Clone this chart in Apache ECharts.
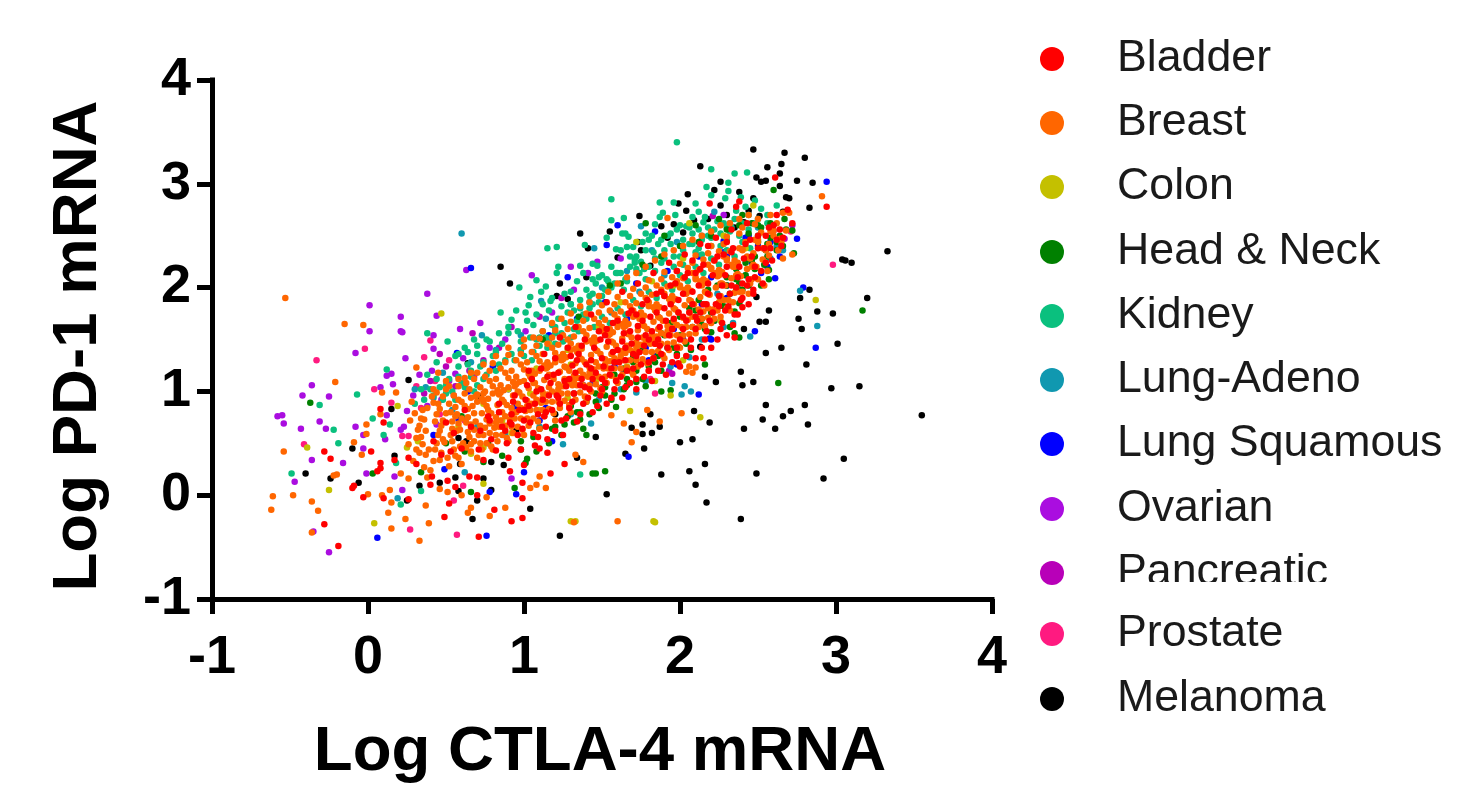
<!DOCTYPE html>
<html><head><meta charset="utf-8">
<style>html,body{margin:0;padding:0;background:#fff}#c{width:1457px;height:785px}</style>
<script src="https://cdn.jsdelivr.net/npm/echarts@6/dist/echarts.min.js"></script>
</head><body><div id="c"></div>
<script>
const categories=["Bladder","Breast","Colon","Head & Neck","Kidney","Lung-Adeno","Lung Squamous","Ovarian","Pancreatic","Prostate","Melanoma"];
const colors=["#FF0000","#FF6600","#C4C000","#008000","#0AC07E","#1098B0","#0000FF","#AA0DE0","#B800B8","#FF1A80","#000000"];
const xTickLabels=["-1","0","1","2","3","4"];
const yTickLabels=["-1","0","1","2","3","4"];
const melanoma=[3.33,2.35,3.04,2.27,3.06,2.26,3.1,2.24,2.83,1.98,2.77,1.9,3.2,1.9,2.88,1.77,2.98,1.75,2.76,1.7,2.78,1.6,2.57,1.78,2.49,1.91,2.51,1.67,2.55,1.67,2.41,1.6,2.65,1.42,2.55,1.37,3.01,1.46,2.81,1.26,2.39,1.19,2.47,1.09,2.4,1.06,2.23,1.09,2.16,1.14,2.13,1.43,2.97,1.03,3.15,1.05,3.55,.77,2.55,.87,2.8,.87,2.71,.81,2.66,.76,2.53,.73,2.61,.64,2.82,.68,2.41,.64,2.19,.7,2.09,.81,1.81,.78,1.76,.68,1.87,.66,1.69,.65,1.76,.59,1.82,.6,2,.51,2.08,.54,1.77,.45,1.65,.4,2.16,.3,1.88,.2,2.06,.23,2.1,.1,2.17,-.07,1.53,.01,2.49,.21,3.05,.35,2.92,.16,2.39,-.23,.26,1.11,.15,.83,-.1,.45,-.4,.21,-.24,.16,-.06,.12,.33,.09,.46,.12,.56,.17,.74,.16,.58,.04,.79,.05,.7,-.05,.67,-.23,1.04,-.13,1.23,-.39,.25,-.05,1.34,.36,1.46,.56,.63,.52,.58,.55,.17,.38,.79,.32,.87,.29,.59,.3,2.47,3.33,2.67,3.3,2.8,3.25,2.56,3.16,2.65,3.19,2.13,3.17,2.64,3.1,2.49,3.06,2.52,3.02,2.55,3.03,2.75,3.03,2.85,3.01,2.26,3.02,2.64,2.98,2.22,2.94,2.38,2.92,2.05,2.9,2.68,2.87,2.7,2.86,2.47,2.86,2.83,2.77,1.99,2.81,2.26,2.79,2.44,2.74,2.04,2.74,1.74,2.69,2.66,2.73,2.51,2.69,1.36,2.52,1.55,2.54,1.41,2.38,1.73,2.44,1.88,2.59,1.96,2.61,2.02,2.53,1.6,2.29,.85,2.2,.91,2.04,1.23,2.04,1.21,1.92,1.28,1.89,1.4,2.1,1.81,2.21,2.3,2.7,2.41,2.63,2.35,2.58,2.18,2.66,2.09,2.65,1.92,2.48,1.75,2.36,.64,1.27,.72,.95,.95,.62,1.2,.78];
const prostate=[2.98,2.22,2.71,2.54,-.33,1.3,-.02,1.41,-.41,.49,.04,1.02,.4,1.49,.36,1.33,.27,-.33,.57,-.38,.55,-.05,.61,.09,.15,.89,.22,.57,.26,.57,1.84,.98,1.81,1.12,.34,.84,.46,.78,.55,.96,.31,1.05,.43,1.1,.52,1.3,.62,.72];
const pancreatic=[.46,1.36,.67,1.56,.4,1.1,.65,1.2,.68,1.14,2.72,2.6,2.67,2.47,1.93,1.2,1.95,1.17,2.21,2.69,.56,1.05,.5,1.24,.74,1.3,.36,.98,.84,1.42,.92,1.62,1.1,1.72,1.24,1.9,2.6,2.55,2.32,2.56];
const ovarian=[.01,1.58,.22,1.57,-.08,1.37,.24,1.32,.42,1.41,-.36,1.06,-.42,.96,-.25,.95,-.58,.76,-.55,.77,-.54,.69,-.31,.71,-.43,.64,-.27,.64,-.08,.66,-.03,.58,-.03,.45,-.36,.34,-.16,.31,-.01,.21,-.47,.13,-.25,-.55,-.35,-.35,.12,1.15,.15,1.17,.08,1.04,.16,1.07,.25,.81,.12,.77,.21,.63,.23,.66,.11,.54,.17,.18,.22,.05,.41,1.2,.56,1.17,.92,.16,.01,1.83,.21,1.72,.38,1.94,.21,1.58,.42,1.54,.63,2.17,.44,1.73,.59,1.6,.72,1.66,.33,1.16,.47,.92,.52,1.1,.61,1.32,.78,1.42,.88,1.5,1.01,1.58,1.18,1.76,1.32,1.98,1.41,2.14,1.47,2.25,.29,.96,.38,.86,.44,.68,1.05,2.12,1.3,2.2,1.62,2.28,2.28,2.7];
const lungSq=[2.94,3.02,2.75,2.47,2.61,2.09,2.79,2,2.87,1.42,2.19,1.51,2.12,.97,1.28,2.1,1.53,2.41,1.84,2.54,1.67,.37,.06,-.41,.76,-.39,.49,.25,.95,.01,.78,.03,1,.22,1.18,.52,.57,1.37,.58,.73,.64,1,.42,.58,.66,2.19,.95,.85,1.1,.72,1.32,.98,1.44,1.08,1.64,1.2,1.84,1.34,2.02,1.5,2.22,1.68,2.38,1.98,2.52,2.14,2.64,2.3,2.58,2.44,2.42,2.48,2.28,2.34,2.12,2.3,1.92,2.16,1.72,2.04,1.52,1.86,1.34,1.7,1.16,1.54,.98,1.4,.8,1.24,.9,1.02,1.14,.84,1.38,1.06,1.58,1.24,1.78,1.42,1.96,1.6,2.14,1.84,2.3,2.02,2.46,2.24,2.56,2.2,2.28,2.45,2.48,1.58,1.98,1.26,1.66,1.7,2.3,1.9,2.2,2.1,2.3,2.3,2.44,2.5,2.5,2.4,2.2,1.5,1.8,1.3,1.6,2.6,2.46];
const lungAdeno=[1.45,2.38,1.75,2.59,2.77,1.97,2.88,1.63,2.45,1.53,2.28,1.62,2.06,1.33,1.95,1.08,2.03,1.05,2.07,1,2.01,.97,1.72,.99,1.11,1.87,2.22,2.73,.6,2.52,.19,-.03,1.25,.49,1.43,.69,.73,1.54,.37,1.04,.62,.22,.48,1.18,.66,1.28,.82,1.4,.98,1.54,1.14,1.7,1.3,1.84,1.5,2,1.66,2.16,1.82,2.36,1.98,2.44,2.14,2.5,2.32,2.62,2.5,2.58,2.62,2.4,2.66,2.36,2.58,2.28,2.42,2.12,2.24,1.94,2.34,1.66,2.14,1.5,1.94,1.24,1.78,1.1,1.62,1.02,1.48,.92,1.3,.78,1.1,.66,.88,.58,.7,.66,.54,.82,.42,.94,.3,1.02,1.56,1.76,1.74,1.96,1.9,2.12,1.42,1.86,1.16,1.48];
const kidney=[1.98,3.4,2.2,3.14,2.35,3.1,2.43,3.11,2.31,3.01,2.17,2.97,2.31,2.93,2.2,2.89,2.29,2.86,2.39,2.87,1.87,2.82,1.96,2.82,2.1,2.81,1.56,2.85,2.48,2.84,2.62,2.79,2.12,2.73,1.89,2.72,1.87,2.68,1.97,2.7,2.08,2.68,2.16,2.68,1.56,2.65,1.64,2.67,2.15,2.63,2.04,2.59,1.84,2.61,1.63,2.52,1.65,2.52,1.67,2.49,1.53,2.48,1.78,2.52,1.39,2.41,1.15,2.38,1.21,2.39,1.59,2.37,1.66,2.39,1.7,2.39,1.71,2.27,1.44,2.23,1.47,2.21,1.22,2.2,1.21,2.14,1.36,2.21,1.08,2.07,.97,2,1.14,2.01,1.11,1.96,1.04,1.91,1.17,1.87,1.03,1.83,.95,1.78,1.01,1.76,.85,1.76,.92,1.69,.12,1.21,.38,1.56,.51,1.48,-.07,.97,-.31,.87,-.22,.63,-.19,.5,-.49,.21,.21,-.09,.34,.04,1.36,.2,.1,.58,.14,.68,.03,.74,.18,.31,1.8,2.46,1.86,2.42,1.92,2.5,1.98,2.56,2.02,2.46,2.08,2.52,2.14,2.46,2.22,2.56,2.28,2.62,2.35,2.66,2.44,2.7,2.52,2.76,2.56,2.62,1.72,2.3,1.78,2.36,1.84,2.28,1.9,2.36,1.96,2.3,2.02,2.36,2.1,2.34,2.2,2.4,2.3,2.46,1.5,2.12,1.56,2.2,1.62,2.14,1.68,2.2,1.74,2.14,1.8,2.2,1.34,2.06,1.4,1.98,1.46,2.04,1.52,1.98,1.58,2.04,1.64,1.98,1.26,1.94,1.3,1.84,1.36,1.88,1.42,1.8,1.48,1.86,1.16,1.78,1.22,1.7,1.28,1.76,1.34,1.68,1.06,1.64,1.12,1.58,1.18,1.64,1.24,1.56,.96,1.58,.98,1.48,1.04,1.52,1.1,1.44,.86,1.46,.9,1.56,.92,1.36,.98,1.4,.78,1.48,.8,1.34,.84,1.26,.88,1.3,.7,1.36,.72,1.24,.76,1.16,.64,1.26,.66,1.14,.7,1.06,.58,1.24,.6,1.08,.52,1.12,.54,1,.46,1.04,.48,.92,.42,.96,.36,.92,.38,1.16,.3,.88,.44,1.28,.62,1.42,.68,1.5,.56,1.34,1.75,2.25,1.83,2.34,1.88,2.24,1.94,2.42,2,2.3,2.06,2.42,2.12,2.38,2.18,2.5,2.26,2.52,2.33,2.58,2.4,2.62,2.47,2.62,1.53,2.08,1.59,2.14,1.65,2.08,1.71,2.24,1.77,2.18,1.44,1.94,1.5,1.92,1.56,2,1.32,1.78,1.38,1.74,1.44,1.84,1.2,1.62,1.26,1.66,1.32,1.6,1.08,1.5,1.14,1.52,1.2,1.46,1,1.34,1.06,1.38,.94,1.3,.82,1.2,.74,1.12,.68,1,.62,1.04,.56,.92,.5,.98];
const kidneyExtra=[1.05,1.3,1.1,1.52,1.15,1.42,1.2,1.56,1.25,1.48,1.3,1.52,1.35,1.58,1.4,1.7,1.45,1.62,1.5,1.72,1.55,1.66,1.6,1.8,1.65,1.74,1.7,1.88,1.75,1.82,1.8,1.96,1.85,1.9,1.9,2.04,1.95,1.98,2,2.12,2.05,2.06,2.1,2.2,2.15,2.14,2.2,2.28,2.25,2.22,2.3,2.36,2.35,2.3,2.4,2.44,2.45,2.38,2.5,2.5,1.02,1.68,1.08,1.74,1.12,1.84,1.18,1.9,1.24,1.82,1.3,1.96,1.36,1.8,1.42,1.92,1.48,2.1,1.54,2.06,1.6,2.14,1.66,2.06,1.72,2.18,1.78,2.08,1.84,2.16,1.9,2.28,1.96,2.2,2.02,2.22,2.08,2.42,2.14,2.32,2.2,2.48,2.26,2.4,2.32,2.54,2.38,2.5,2.44,2.56,2.5,2.66,2.56,2.7,1.38,2.14,1.44,2.08,1.62,2.36,1.68,2.3,1.76,2.44,1.82,2.5,1.88,2.46,1.94,2.52,2,2.6,2.06,2.58,2.12,2.56,2.18,2.58,2.24,2.64,2.3,2.58,2.36,2.74,2.42,2.78,.9,1.62,.84,1.56,.76,1.5,.7,1.44,.64,1.38,.58,1.36,.82,1.38,.74,1.28,.66,1.2,.58,1.14,.5,1.06,.44,1.12,.4,1.02,.34,1.02];
const headNeck=[2.6,2.94,2.67,2.66,2.72,2.55,2.73,2.33,2.57,2.17,2.57,2.08,2.52,2.02,2.38,1.85,2.35,1.77,2.32,1.62,2.2,1.57,2.38,1.52,2.35,1.56,2.16,1.26,2.07,1.4,2.63,1.08,3.17,1.78,1.94,1.01,1.88,1,1.78,1.05,1.72,1.09,1.59,.85,1.52,.23,1.44,.21,1.46,.21,1.36,.73,1.38,.64,1.4,.58,1.02,.35,1.01,.31,.94,.07,.66,.03,.34,.22,.03,.21,-.37,.89,.77,.5,.6,.76,2.52,2.58,2.46,2.62,2.58,2.48,2.62,2.36,2.56,2.3,2.46,2.26,2.42,2.12,2.36,2.08,2.32,1.94,2.26,1.9,2.2,1.76,2.14,1.7,2.08,1.62,2,1.54,1.92,1.42,1.86,1.34,1.8,1.24,1.72,1.2,1.64,1.02,1.58,.98,1.48,.84,1.42,.78,1.32,.7,1.24,.58,1.16,.5,1.08,.42,.98,.52,.86,.38,.74,.32,.62,.42,.5,.5,2.5,2.44,2.3,2.02,2.1,1.78,1.9,1.54,1.7,1.34,1.5,1.04,1.3,.86,1.1,.64,1.78,2.62,1.9,2.5,2.1,2.6,2.25,2.66,2.4,2.7,1.55,2.02,1.35,1.72,1.12,1.5,2.48,2.18,2.44,2.02,2.4,1.98,2.28,1.82,2.22,1.68,2.16,1.6,2.04,1.46,1.98,1.36,1.88,1.2,1.76,1.12,1.66,1.12,1.56,.92,1.46,.9,1.36,.8,1.28,.76,1.2,.66,2.56,2.42,2.64,2.5,2.54,2.22,2.38,2.04];
const headNeckExtra=[2.55,2.36,2.48,2.3,2.42,2.24,2.36,2.18,2.3,2.1,2.24,2.02,2.18,1.98,2.12,1.88,2.06,1.8,2,1.72,1.94,1.66,1.88,1.56,1.82,1.5,1.76,1.42,1.7,1.28,1.64,1.22,1.58,1.16,1.52,1.04,1.46,.98,1.4,.9,1.34,.8,1.26,.68,1.18,.64,1.06,.56,.98,.44,2.62,2.44,2.68,2.56,2.66,2.4,2.58,2.62,2.5,2.6,2.44,2.52,2.38,2.6,2.3,2.56,2.2,2.5,2.12,2.44,2,2.4,1.88,2.3,1.76,2.22,1.62,2.04,2.44,2.28,2.36,1.98,2.26,1.84,2.14,1.64,1.96,1.42,1.84,1.28,1.66,1.06,1.52,.96];
const colon=[2.47,2.79,2.87,1.88,1.94,.96,2.13,.75,1.68,.81,-.39,.46,-.25,.05,.04,-.27,.19,.86,1.3,-.25,.32,.52,.25,.46,.47,1.75,.74,.11,1.33,-.25,1.84,-.26,1.83,-.25,2.06,2.62,2.28,2.5,2.02,2.28,1.82,2.06,1.62,1.86,1.48,1.62,1.28,1.4,1.08,1.22,.9,1.02,.74,.88,.58,.66,.74,.46,.92,.6,1.1,.82,1.28,.94,1.46,1.1,1.66,1.24,1.86,1.46,1.84,1.1,2.02,1.3,2.26,1.68,1.96,2.02,1.6,1.66,1.3,1.26,1.04,.98,.86,.72,1.16,1.46,.66,.4,1.72,2.44,2.42,2.38];
const breast=[-.53,1.9,-.15,1.65,-.03,1.64,-.21,1.09,-.54,.42,-.61,-.01,-.48,0,-.62,-.14,-.36,-.06,-.32,-.15,-.36,-.36,-.2,.2,-.22,.19,-.09,.51,-.04,.39,-.01,.68,-.01,.59,.09,.99,.18,.99,.08,.78,.31,1.23,.45,1.18,0,.01,.09,0,.14,.05,.15,-.07,.13,-.17,.15,-.32,.24,-.23,.33,-.44,.39,-.27,.37,-.1,.21,.21,.26,.16,.64,-.17,.66,-.12,.78,-.2,.88,-.12,1.32,-.26,1.04,.07,1.08,.1,1.14,.07,1.1,.18,1.38,.32,1.33,.39,.46,.06,.51,.03,.38,.17,.6,0,.76,-.02,1.6,-.25,2.91,2.88,2.72,2.32,1.92,2.67,2.01,.79,1.87,.71,1.69,.51,1.72,.61,1.79,.82,1.64,.69,1.56,.77,2.04,1.19,2.06,1.24,2.1,1.23,2.08,1.18,.27,.72,.31,.55,.33,.41,.29,.33,.35,.82,.26,.49,.32,.63,.36,.27,.28,.9,.34,.74,.41,.95,.38,.84,.43,.71,.37,.62,.44,.5,.39,.44,.42,.33,.46,.62,.36,.73,.45,.88,.4,.24,.47,.41,.48,.95,.52,.88,.5,.79,.54,.71,.47,.67,.53,.58,.49,.51,.55,.44,.51,.36,.56,.85,.46,.83,.52,.28,.57,.62,.5,1.02,.58,1.05,.62,.98,.6,.9,.64,.83,.57,.78,.63,.7,.59,.63,.65,.56,.61,.5,.66,.42,.58,.36,.63,1.08,.66,.94,.6,.74,.68,1.12,.72,1.04,.7,.97,.74,.9,.67,.86,.73,.79,.69,.71,.75,.65,.71,.58,.76,.5,.68,.52,.73,.44,.77,.82,.7,1.18,.75,1,.78,1.2,.82,1.12,.8,1.05,.84,.97,.77,.93,.83,.87,.79,.79,.85,.72,.81,.65,.86,.58,.78,.6,.83,.52,.87,.9,.8,1.27,.85,1.06,.82,.75,.88,1.28,.92,1.2,.9,1.13,.94,1.05,.87,1.01,.93,.96,.89,.87,.95,.8,.91,.73,.96,.66,.88,.67,.93,.6,.97,.99,.9,1.35,.95,1.14,.92,.84,.98,1.36,1.02,1.28,1,1.21,1.04,1.14,.97,1.09,1.03,1.03,.99,.95,1.05,.88,1.01,.81,1.06,.74,.98,.74,1.03,.67,1.07,1.08,1,1.43,1.05,1.2,1.02,.91,1.08,1.44,1.12,1.36,1.1,1.29,1.14,1.22,1.07,1.17,1.13,1.11,1.09,1.03,1.15,.97,1.11,.89,1.16,.83,1.08,.82,1.13,.76,1.17,1.15,1.1,1.51,1.15,1.28,1.12,.99,1.18,1.52,1.22,1.45,1.2,1.37,1.24,1.3,1.17,1.25,1.23,1.19,1.19,1.12,1.25,1.05,1.21,.98,1.26,.91,1.18,.9,1.23,.84,1.27,1.23,1.2,1.59,1.25,1.36,1.22,1.07,1.28,1.6,1.32,1.53,1.3,1.46,1.34,1.38,1.27,1.33,1.33,1.27,1.29,1.2,1.35,1.13,1.31,1.06,1.36,.99,1.28,.98,1.33,.92,1.37,1.31,1.3,1.67,1.35,1.44,1.32,1.15,1.38,1.68,1.42,1.61,1.4,1.54,1.44,1.46,1.37,1.41,1.43,1.35,1.39,1.28,1.45,1.21,1.41,1.14,1.46,1.07,1.38,1.06,1.43,1,1.47,1.39,1.4,1.75,1.45,1.52,1.42,1.23,1.48,1.76,1.52,1.69,1.5,1.62,1.54,1.54,1.47,1.49,1.53,1.43,1.49,1.36,1.55,1.29,1.51,1.22,1.56,1.15,1.48,1.14,1.53,1.08,1.57,1.47,1.5,1.83,1.55,1.6,1.52,1.31,1.58,1.84,1.62,1.77,1.6,1.7,1.64,1.62,1.57,1.57,1.63,1.51,1.59,1.44,1.65,1.37,1.61,1.3,1.66,1.23,1.58,1.22,1.63,1.16,1.67,1.55,1.6,1.91,1.65,1.68,1.62,1.39,1.68,1.92,1.72,1.85,1.7,1.78,1.74,1.7,1.67,1.65,1.73,1.59,1.69,1.52,1.75,1.45,1.71,1.38,1.76,1.31,1.68,1.3,1.73,1.24,1.77,1.63,1.7,1.99,1.75,1.76,1.72,1.47,1.78,2,1.82,1.93,1.8,1.86,1.84,1.78,1.77,1.73,1.83,1.67,1.79,1.6,1.85,1.53,1.81,1.46,1.86,1.39,1.78,1.38,1.83,1.32,1.87,1.71,1.8,2.07,1.85,1.84,1.82,1.55,1.88,2.08,1.92,2.01,1.9,1.94,1.94,1.86,1.87,1.81,1.93,1.75,1.89,1.68,1.95,1.61,1.91,1.54,1.96,1.47,1.88,1.46,1.93,1.4,1.97,1.79,1.9,2.15,1.95,1.92,1.92,1.63,1.98,2.16,2.02,2.09,2,2.02,2.04,1.94,1.97,1.89,2.03,1.83,1.99,1.76,2.05,1.69,2.01,1.62,2.06,1.55,1.98,1.54,2.03,1.48,2.07,1.87,2,2.23,2.05,2,2.02,1.71,2.08,2.24,2.12,2.17,2.1,2.1,2.14,2.02,2.07,1.97,2.13,1.91,2.09,1.84,2.15,1.77,2.11,1.7,2.16,1.63,2.08,1.62,2.17,1.95,2.1,2.31,2.15,2.08,2.12,1.79,2.18,2.33,2.22,2.26,2.2,2.19,2.24,2.11,2.17,2.06,2.23,2,2.19,1.93,2.25,1.86,2.21,1.79,2.26,1.72,2.18,1.71,2.27,2.04,2.2,2.4,2.25,2.17,2.28,2.42,2.32,2.35,2.3,2.28,2.34,2.2,2.27,2.15,2.33,2.09,2.29,2.02,2.35,1.95,2.31,1.88,2.37,2.13,2.3,2.49,2.35,2.26,2.38,2.52,2.42,2.44,2.4,2.37,2.44,2.29,2.37,2.24,2.43,2.18,2.39,2.11,2.45,2.04,2.47,2.22,2.4,2.58,2.48,2.61,2.52,2.53,2.5,2.46,2.54,2.38,2.47,2.33,2.53,2.27,2.49,2.2,2.57,2.31,2.58,2.7,2.62,2.62,2.6,2.55,2.64,2.47,2.57,2.42,2.63,2.36,2.68,2.55,2.7,2.72,2.66,2.72];
const breastExtra=[.34,.56,.33,.67,.37,.39,.3,.79,.35,.49,.31,.44,.44,.78,.45,.58,.43,.44,.48,.72,.42,.89,.46,.34,.44,.99,.48,.54,.55,.96,.56,.76,.54,.52,.58,.69,.53,.8,.56,.38,.58,.92,.54,.64,.59,.47,.52,1.05,.64,.75,.66,.68,.64,.61,.68,.79,.62,.86,.66,.49,.69,.95,.65,1.02,.63,.46,.68,.63,.62,1.13,.74,.98,.76,.73,.74,.58,.78,.69,.73,.93,.76,.86,.72,.5,.78,1.1,.75,1.14,.79,.47,.72,.67,.85,.99,.86,.8,.84,.66,.88,.76,.83,1.01,.86,.92,.82,.58,.88,1.18,.85,1.22,.89,.55,.82,.7,.95,1.07,.96,.88,.94,.74,.98,.84,.93,1.09,.96,1,.92,.66,.98,1.26,.95,1.3,.99,.63,.92,.78,1.05,1.15,1.06,.96,1.04,.82,1.08,.92,1.03,1.17,1.06,1.08,1.02,.74,1.08,1.34,1.05,1.38,1.09,.71,1.02,.86,1.15,1.23,1.16,1.04,1.14,.9,1.18,1,1.13,1.25,1.16,1.16,1.12,.82,1.18,1.42,1.15,1.46,1.19,.79,1.12,.94,1.25,1.31,1.26,1.12,1.24,.98,1.28,1.08,1.23,1.33,1.26,1.24,1.22,.9,1.28,1.5,1.25,1.54,1.29,.87,1.22,1.02,1.35,1.39,1.36,1.2,1.34,1.06,1.38,1.16,1.33,1.41,1.36,1.32,1.32,.98,1.38,1.58,1.35,1.62,1.39,.95,1.32,1.1,1.45,1.47,1.46,1.28,1.44,1.14,1.48,1.24,1.43,1.49,1.46,1.4,1.42,1.06,1.48,1.66,1.45,1.7,1.49,1.03,1.42,1.18,1.55,1.55,1.56,1.36,1.54,1.22,1.58,1.32,1.53,1.57,1.56,1.48,1.52,1.14,1.58,1.74,1.55,1.78,1.59,1.11,1.52,1.26,1.65,1.63,1.66,1.44,1.64,1.3,1.68,1.4,1.63,1.65,1.66,1.56,1.62,1.22,1.68,1.82,1.65,1.86,1.69,1.19,1.62,1.34,1.75,1.71,1.76,1.52,1.74,1.38,1.78,1.48,1.73,1.73,1.76,1.64,1.72,1.3,1.78,1.9,1.75,1.94,1.79,1.27,1.72,1.42,1.85,1.79,1.86,1.6,1.84,1.46,1.88,1.56,1.83,1.81,1.86,1.72,1.82,1.38,1.88,1.98,1.85,2.02,1.89,1.35,1.82,1.5,1.95,1.87,1.96,1.68,1.94,1.54,1.98,1.64,1.93,1.89,1.96,1.8,1.92,1.46,1.98,2.06,1.95,2.1,1.99,1.43,1.92,1.58,2.05,1.96,2.06,1.76,2.04,1.62,2.08,1.72,2.03,1.98,2.06,1.88,2.02,1.54,2.08,2.14,2.05,2.19,2.15,2.04,2.16,1.84,2.14,1.7,2.18,1.8,2.13,2.06,2.16,1.96,2.12,1.62,2.18,2.22,2.15,2.27,2.25,2.12,2.26,1.92,2.24,1.78,2.28,1.88,2.23,2.14,2.26,2.04,2.22,1.7,2.28,2.3,2.25,2.35,2.35,2.2,2.36,2,2.34,1.86,2.38,1.96,2.33,2.22,2.36,2.12,2.32,1.78,2.38,2.38,2.45,2.28,2.46,2.08,2.44,1.94,2.43,2.3,2.46,2.2,2.48,2.46,2.55,2.36,2.56,2.16,2.54,2.02,2.53,2.38,2.58,2.54,2.65,2.44,2.66,2.28,1,1.5,1.06,1.52,1.12,1.58,1.18,1.66,1.24,1.7,1.3,1.75,1.36,1.82,1.42,1.86,1.48,1.92,1.54,1.96,1.6,2.04,1.66,2.1,1.72,2.14,1.78,2.2,1.84,2.26,1.9,2.32,1.96,2.36,2.02,2.4,2.08,2.46,2.14,2.5,2.2,2.54,2.26,2.6,2.32,2.62,2.38,2.66,2.44,2.7,2.5,2.66,.9,1.42,.82,1.34,.74,1.26,.66,1.18,.58,1.12,.5,1.1,.42,1.02,.6,.3,.7,.36,.8,.44,.9,.52,1,.58,1.1,.64,1.2,.72,1.3,.8,1.4,.9,1.5,1,1.6,1.08,1.7,1.16,1.8,1.2,1.9,1.32,2,1.42,2.1,1.56,2.2,1.66,2.3,1.8,2.4,1.96,2.5,2.08,.7,.9,.8,.98,.9,1.04,1,1.1,1.1,1.2,1.2,1.28,1.3,1.4,1.4,1.48,1.5,1.58,1.6,1.62,1.7,1.72,1.8,1.82,1.9,1.92,2,2,2.1,2.08,2.2,2.18,2.3,2.26,2.4,2.36,2.5,2.44,2.6,2.5];
const bladder=[-.19,-.49,-.28,-.28,-.28,.42,-.24,.35,.02,.42,.08,.83,.1,.7,-.1,.07,-.09,.09,-.03,-.02,.1,-.03,.26,-.04,.06,.23,.08,.26,.08,.31,.17,.34,.26,.36,.31,.3,.41,.18,.4,.1,.51,.14,.56,.08,.52,-.08,.49,-.21,.71,-.4,.81,-.14,.92,-.25,.99,-.22,.99,-.03,.99,.12,1.17,.21,1.26,.3,1.15,.41,1.1,.45,.7,0,.65,.18,.7,.17,.91,.23,1,.29,2.61,3.06,2.19,2.81,2.38,2.83,2.36,2.78,2.69,2.75,2.62,2.7,2.72,2.62,2.94,2.78,2.65,2.4,1.99,1.27,2.15,1.32,2.35,1.52,2.4,1.81,2.44,1.84,2.47,1.94,.42,.52,.47,.39,.5,.7,.55,.6,.53,.42,.6,.45,.62,.82,.66,.66,.72,.62,.71,.44,.74,.34,.77,.76,.79,.54,.82,.43,.84,.88,.86,.66,.89,.5,.9,.36,.92,.78,.94,.96,.96,.58,.98,.44,1,.72,1.02,1.06,1.03,.86,1.06,.6,1.07,.48,1.08,1,1.09,.78,1.11,1.22,1.12,.92,1.14,.66,1.15,.54,1.17,1.08,1.18,.82,1.2,1.32,1.21,.96,1.22,1.18,1.24,.72,1.25,.58,1.27,1.05,1.28,1.42,1.29,.84,1.31,1.25,1.32,.98,1.34,.71,1.35,1.36,1.37,1.12,1.38,.88,1.39,1.5,1.4,1.26,1.42,1.02,1.44,.8,1.45,1.42,1.46,1.18,1.48,1.58,1.49,.96,1.5,1.32,1.52,1.08,1.53,.88,1.54,1.48,1.56,1.22,1.57,1.66,1.58,1.02,1.6,1.4,1.62,1.14,1.63,.94,1.64,1.56,1.65,1.3,1.67,1.75,1.68,1.08,1.69,1.46,1.7,1.22,1.72,1.02,1.73,1.63,1.74,1.38,1.76,1.84,1.77,1.14,1.78,1.54,1.8,1.28,1.81,1.72,1.82,1.1,1.84,1.46,1.85,1.94,1.86,1.2,1.87,1.62,1.88,1.36,1.9,1.8,1.91,1.16,1.93,1.54,1.94,2.02,1.95,1.28,1.96,1.7,1.98,1.42,1.99,1.88,2,1.24,2.02,1.6,2.03,2.1,2.04,1.34,2.06,1.76,2.07,1.5,2.08,1.96,2.1,1.32,2.11,1.68,2.13,2.18,2.14,1.42,2.15,1.84,2.17,1.58,2.18,2.04,2.2,1.42,2.21,1.76,2.22,2.26,2.24,1.5,2.25,1.92,2.27,1.66,2.29,2.12,2.3,1.54,2.31,1.82,2.33,2.34,2.34,1.64,2.36,2,2.37,1.74,2.38,2.2,2.4,1.9,2.42,2.42,2.44,2.08,2.46,2.3,2.47,1.98,2.5,2.5,2.52,2.16,2.54,2.38,2.57,2.58,2.59,2.26,2.62,2.46,1.03,1.2,1.13,1.36,1.23,1.52,1.33,1.62,1.43,1.74,1.53,1.86,1.63,1.96,1.73,2.04,1.83,2.14,1.93,2.24,2.03,2.32,2.13,2.42,2.23,2.48,2.33,2.56,2.43,2.62];
const bladderExtra=[.88,.62,.91,.7,.93,.9,.97,.82,.99,.64,1.01,.92,1.04,.7,1.05,1.12,1.09,.56,1.11,1.02,1.13,.76,1.16,.96,1.19,1.16,1.2,.62,1.23,.88,1.26,1.1,1.27,.74,1.3,1.34,1.31,.9,1.33,1.18,1.36,.78,1.37,1.44,1.39,1.04,1.41,.94,1.43,1.3,1.44,1.12,1.47,.86,1.49,1.5,1.5,1.02,1.51,1.24,1.53,1.6,1.55,1.16,1.56,.94,1.57,1.38,1.59,1.1,1.6,1.68,1.61,1.28,1.63,1.48,1.65,1.04,1.66,1.2,1.68,1.58,1.69,1.78,1.7,1.36,1.72,1.12,1.73,1.52,1.75,1.26,1.76,1.68,1.77,1.44,1.79,1.88,1.8,1.2,1.82,1.58,1.83,1.32,1.85,1.76,1.86,1.5,1.88,1.96,1.89,1.26,1.91,1.68,1.92,1.42,1.94,1.84,1.95,1.6,1.97,2.04,1.98,1.34,1.99,1.76,2,1.5,2.02,1.94,2.04,1.68,2.05,2.14,2.07,1.42,2.08,1.84,2.1,1.6,2.12,2.02,2.13,1.76,2.15,2.22,2.16,1.5,2.18,1.94,2.19,1.68,2.21,2.12,2.23,1.84,2.24,2.3,2.26,1.6,2.27,2.02,2.29,1.78,2.3,2.2,2.32,1.94,2.34,2.38,2.35,1.74,2.37,2.1,2.39,1.88,2.41,2.28,2.43,2.02,2.45,2.46,2.48,2.2,2.5,2.38,2.53,2.04,2.55,2.5,2.58,2.38,2.6,2.6,2.64,2.56,2.66,2.48,2.3,2.44,2.18,2.4,2.08,2.26,1.98,2.16,.78,.72,.84,.8,.92,.68,1,.82,1.07,.88,1.14,.8,1.22,.94,1.29,1.12,1.36,1.06,1.43,1.22,1.5,1.12,1.58,1.28,1.65,1.42,1.72,1.34,1.8,1.5,1.87,1.44,1.95,1.6,2.02,1.72,2.1,1.72,2.17,1.84,2.25,1.82,2.33,2.02,2.4,2.04,2.48,2.1,2.55,2.24,2.28,2.32,2.1,2.14,1.9,1.92,1.72,1.74,1.52,1.54,1.34,1.3,1.15,1.14];
const seriesValues=[bladder.concat(bladderExtra),breast.concat(breastExtra),colon,headNeck.concat(headNeckExtra),kidney.concat(kidneyExtra),lungAdeno,lungSq,ovarian,pancreatic,prostate,melanoma];
const legendTops=[58,122,186,251,315,379,443,508,572,633,698];

function pairs(a){const o=[];for(let i=0;i<a.length;i+=2)o.push([a[i],a[i+1]]);return o;}
const series=categories.map((n,i)=>({name:n,type:"scatter",symbolSize:6.5,
  data:pairs(seriesValues[i]),itemStyle:{color:colors[i],opacity:1},z:2+(categories.length-i),
  animation:false,clip:false,silent:true})).reverse();
const legends=categories.map((n,i)=>({show:true,data:[n],left:1035,top:legendTops[i]-30,
  icon:"circle",itemWidth:24,itemHeight:24,selectedMode:false,
  textStyle:{fontFamily:"Liberation Sans",fontSize:44.7,color:"#1a1a1a",padding:[0,0,0,48],lineHeight:52}}));
const tickStyle={show:true,length:15,lineStyle:{color:"#000",width:5}};
const lineStyle={show:true,onZero:false,lineStyle:{color:"#000",width:5,cap:"square"}};
const labelStyle={fontFamily:"Liberation Sans",fontWeight:"bold",fontSize:54,color:"#000"};
const nameStyle={fontFamily:"Liberation Sans",fontWeight:"bold",fontSize:63.6,color:"#000"};
const chart=echarts.init(document.getElementById("c"),null,{renderer:"canvas"});
chart.setOption({
  animation:false,backgroundColor:"#fff",
  grid:{left:212,top:80,width:780,height:519,containLabel:false,outerBoundsMode:"none"},
  legend:legends,
  xAxis:{type:"value",min:-1,max:4,interval:1,splitLine:{show:false},axisLine:lineStyle,axisTick:tickStyle,
    axisLabel:{...labelStyle,margin:32,formatter:(v)=>xTickLabels[Math.round(v)+1],hideOverlap:false,showMinLabel:true,showMaxLabel:true},
    name:"Log CTLA-4 mRNA",nameLocation:"middle",nameGap:121,nameTextStyle:{...nameStyle,padding:[0,4,0,0]}},
  yAxis:{type:"value",min:-1,max:4,interval:1,splitLine:{show:false},axisLine:lineStyle,axisTick:tickStyle,
    axisLabel:{...labelStyle,margin:21,formatter:(v)=>yTickLabels[Math.round(v)+1],hideOverlap:false,showMinLabel:true,showMaxLabel:true},
    name:"Log PD-1 mRNA",nameLocation:"middle",nameGap:102,nameTextStyle:{...nameStyle,padding:[0,13,0,0]}},
  graphic:[{type:"rect",z:100,zlevel:1,left:1110,top:582,shape:{width:260,height:24},style:{fill:"#fff"}}],
  series:series
});
</script></body></html>
